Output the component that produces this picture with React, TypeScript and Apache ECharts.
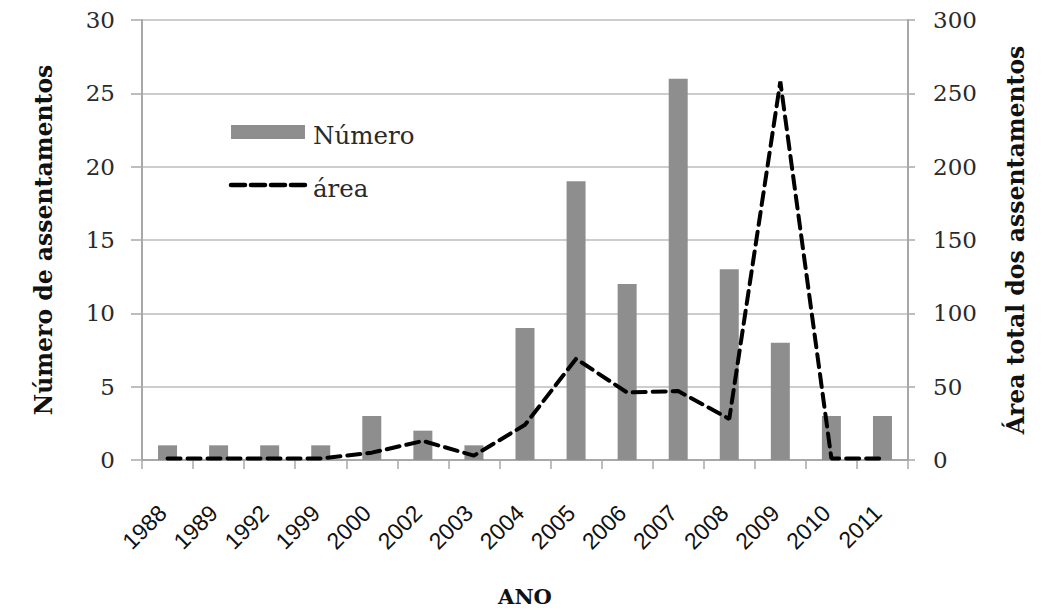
import React, { useEffect, useRef } from "react";
import * as echarts from "echarts";

// Anos dos assentamentos
const anos = ["1988", "1989", "1992", "1999", "2000", "2002", "2003", "2004", "2005", "2006", "2007", "2008", "2009", "2010", "2011"];
// Número de assentamentos por ano (eixo esquerdo)
const numero = [1, 1, 1, 1, 3, 2, 1, 9, 19, 12, 26, 13, 8, 3, 3];
// Área total dos assentamentos por ano (eixo direito)
const area = [1, 1, 1, 1, 5, 13, 3, 24, 69, 46, 47, 28, 258, 1, 1];

const leftTicks = { min: 0, max: 30, interval: 5 };
const rightTicks = { min: 0, max: 300, interval: 50 };

const serif = "DejaVu Serif";
const axisGrey = "#a8a8a8";

export default function App() {
  const ref = useRef<HTMLDivElement>(null);

  useEffect(() => {
    if (!ref.current) return;
    const chart = echarts.init(ref.current, undefined, { renderer: "svg" });

    chart.setOption({
      animation: false,
      backgroundColor: "#ffffff",
      grid: { left: 142, right: 153, top: 20, bottom: 151, containLabel: false },
      xAxis: {
        type: "category",
        data: anos,
        name: "ANO",
        nameLocation: "middle",
        nameGap: 126,
        nameTextStyle: { fontFamily: serif, fontWeight: "bold", fontSize: 21, color: "#111" },
        axisLine: { lineStyle: { color: axisGrey, width: 2 } },
        axisTick: { show: true, length: 9, lineStyle: { color: axisGrey, width: 1.5 } },
        axisLabel: {
          rotate: 45,
          margin: 44,
          padding: [0, 7, 0, 0],
          fontFamily: "Liberation Sans",
          fontSize: 23,
          color: "#111",
          interval: 0,
        },
      },
      yAxis: [
        {
          type: "value",
          ...leftTicks,
          position: "left",
          name: "Número de assentamentos",
          nameLocation: "middle",
          nameGap: 86,
          nameTextStyle: { fontFamily: serif, fontWeight: "bold", fontSize: 23.5, color: "#111" },
          axisLine: { show: true, lineStyle: { color: axisGrey, width: 2 } },
          axisTick: { show: true, length: 11, lineStyle: { color: axisGrey, width: 1.5 } },
          axisLabel: { margin: 27, fontFamily: serif, fontSize: 23, color: "#2a2a2a" },
          splitLine: { show: true, lineStyle: { color: "#bdbdbd", width: 1.5 } },
        },
        {
          type: "value",
          ...rightTicks,
          position: "right",
          name: "Área total dos assentamentos",
          nameLocation: "middle",
          nameGap: 96,
          nameRotate: 90,
          nameTextStyle: { fontFamily: serif, fontWeight: "bold", fontSize: 23.5, color: "#111" },
          axisLine: { show: true, lineStyle: { color: axisGrey, width: 2 } },
          axisTick: { show: true, length: 7, lineStyle: { color: axisGrey, width: 1.5 } },
          axisLabel: { margin: 25, fontFamily: serif, fontSize: 23, color: "#2a2a2a" },
          splitLine: { show: false },
        },
      ],
      series: [
        {
          name: "Número",
          type: "bar",
          yAxisIndex: 0,
          data: numero,
          barWidth: 19,
          itemStyle: { color: "#8e8e8e" },
          z: 2,
        },
        {
          name: "área",
          type: "line",
          yAxisIndex: 1,
          data: area,
          symbol: "none",
          lineStyle: { color: "#000", width: 4, type: [13, 7], cap: "round" },
          z: 5,
        },
      ],
      graphic: [
        {
          type: "group",
          z: 100,
          children: [
            { type: "rect", shape: { x: 201, y: 108, width: 241, height: 102 }, style: { fill: "#ffffff" } },
            { type: "rect", shape: { x: 231, y: 125, width: 74, height: 14 }, style: { fill: "#8e8e8e" } },
            {
              type: "text",
              x: 313,
              y: 135,
              style: { text: "Número", fontFamily: serif, fontSize: 24.5, fill: "#2a2a2a", verticalAlign: "middle" },
            },
            {
              type: "line",
              shape: { x1: 231, y1: 185, x2: 305, y2: 185 },
              style: { stroke: "#000", lineWidth: 4.5, lineDash: [14, 6], lineCap: "round" },
            },
            {
              type: "text",
              x: 313,
              y: 188,
              style: { text: "área", fontFamily: serif, fontSize: 24.5, fill: "#2a2a2a", verticalAlign: "middle" },
            },
          ],
        },
      ],
    });

    return () => chart.dispose();
  }, []);

  return (
    <div
      ref={ref}
      style={{ position: "fixed", left: 0, top: 0, width: 1061, height: 612 }}
    />
  );
}
